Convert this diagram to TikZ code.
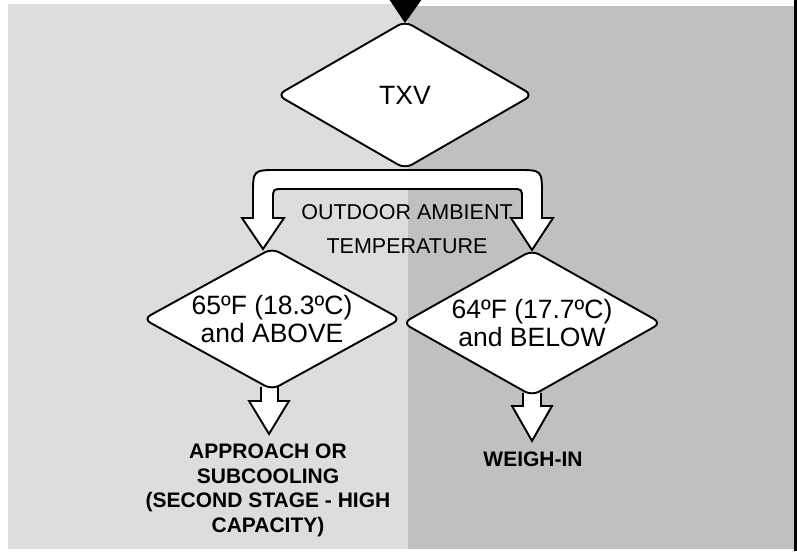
\documentclass[tikz,border=0pt]{standalone}
\usepackage{fontspec}
\setmainfont{Liberation Sans}
\usetikzlibrary{shapes.geometric,calc}
\definecolor{leftgray}{HTML}{DDDDDD}
\definecolor{rightgray}{HTML}{C0C0C0}
\pgfdeclarelayer{back}
\pgfdeclarelayer{mid}
\pgfsetlayers{back,mid,main}

\begin{document}
\begin{tikzpicture}[x=1pt, y=-1pt,
    decision/.style={draw, diamond, fill=white, line width=1.9pt, rounded corners=8pt,
        shape aspect=1.8, inner sep=-4pt, align=center, font=\fontsize{26.5}{28}\selectfont},
    blockarrow/.style={draw, fill=white, line width=1.9pt, line join=miter},
    result/.style={inner sep=0pt, align=center, font=\bfseries\fontsize{21}{24.5}\selectfont}
]
\useasboundingbox (0,0) rectangle (797,551);

\node[decision, minimum width=256pt, minimum height=148pt] (txv) at (405,95) {TXV};
\node[decision, minimum width=258pt, minimum height=142pt] (above) at (272,319) {65ºF (18.3ºC)\\and ABOVE};
\node[decision, minimum width=259pt, minimum height=146pt] (below) at (532,323) {64ºF (17.7ºC)\\and BELOW};

\node[inner sep=0pt, align=center, font=\fontsize{21.5}{34}\selectfont] (ambient) at (407,229) {OUTDOOR AMBIENT\\TEMPERATURE};

\node[result, anchor=north] (approach) at (268,444) {APPROACH OR\\SUBCOOLING\\(SECOND STAGE - HIGH\\CAPACITY)};
\node[result, anchor=base] (weigh) at (533,466) {WEIGH-IN};

% panels
\begin{pgfonlayer}{back}
\fill[leftgray] (8,4) rectangle (408,549);
\fill[rightgray] (408,6) rectangle (794,549);
\fill[black] (794,0) rectangle (797,551);
\fill[black] (389,-1) -- (422,-1) -- ($(txv.north)+(0,3)$) -- cycle;
\end{pgfonlayer}

% split arrow and outlet arrows
\begin{pgfonlayer}{mid}
\coordinate (ltip) at (263,249);
\coordinate (rtip) at (532,250);
\draw[blockarrow] (ltip) -- (284,218) -- (273,218) -- (273,199) .. controls (273,189) .. (283,189)
    -- (512,189) .. controls (522,189) .. (522,199) -- (522,218) -- (511,218) -- (rtip)
    -- (553,218) -- (542,218) -- (542,195) .. controls (542,170) .. (517,170)
    -- (278,170) .. controls (253,170) .. (253,195) -- (253,218) -- (242,218) -- cycle;
\draw[blockarrow] ($(above.south)+(-11,-4)$) -- ++(0,14) -- ++(-12,0) -- ++(20,33)
    -- ++(20,-33) -- ++(-11,0) -- ++(0,-14);
\draw[blockarrow] ($(below.south)+(-9,-4)$) -- ++(0,13) -- ++(-11,0) -- ++(20,35)
    -- ++(20,-35) -- ++(-11,0) -- ++(0,-13);
\end{pgfonlayer}
\end{tikzpicture}
\end{document}
